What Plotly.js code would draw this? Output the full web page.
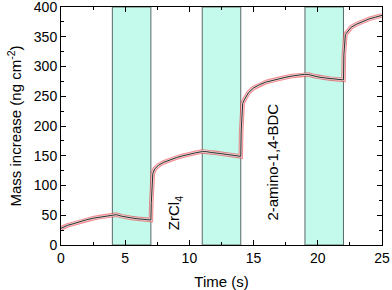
<!DOCTYPE html>
<html>
<head>
<meta charset="utf-8">
<script src="https://cdn.plot.ly/plotly-3.0.1.min.js"></script>
<style>html,body{margin:0;padding:0;background:#fff;}#chart{width:392px;height:290px;}</style>
</head>
<body>
<div id="chart"></div>
<script>
// Time (s)
var time = [0,0.25,0.5,1,1.5,2,2.5,3,3.5,4,4.3,4.7,5,5.5,6,6.5,7,
  7.03,7.08,7.15,7.3,7.6,8,8.5,9,9.5,10,10.5,11,11.3,11.7,12,12.5,13,13.5,14,
  14.03,14.08,14.15,14.3,14.6,15,15.5,16,16.5,17,17.5,18,18.5,19,19.3,19.7,20,20.5,21,21.5,22,
  22.03,22.08,22.15,22.3,22.6,23,23.5,24,24.5,25];
// Mass increase (ng cm^-2)
var mass = [28,31,33,36,39.5,42.5,45,47,49,51,51,48.5,47,45.5,44,43,42,
  70,105,120,128,134,139,143.5,147,150,153,155,157,157,155.5,155,153.5,152,150.5,149,
  190,225,238,245,256,264,270,274,277,280,282,284,285.5,287,286.5,284,282.5,281,279.5,278.5,277.5,
  320,345,354,358,366,371,376,380,383,386];
// Precursor pulse windows (s)
var bandStart = [4, 11, 19];
var bandEnd = [7, 14, 22];
var labels = ['ZrCl<sub>4</sub>', '2-amino-1,4-BDC'];
var labelX = [8.9, 16.5];
var labelY = [54, 140];

var shapes = [];
for (var i = 0; i < bandStart.length; i++) {
  shapes.push({type:'rect', xref:'x', yref:'paper', x0:bandStart[i], x1:bandEnd[i], y0:0, y1:1,
    fillcolor:'rgb(196,250,236)', line:{color:'rgb(90,105,105)', width:1}, layer:'below'});
}

var traces = [
  {x:time, y:mass, mode:'lines', line:{color:'rgba(235,60,70,0.6)', width:4.5}, hoverinfo:'skip'},
  {x:time, y:mass, mode:'lines', line:{color:'rgb(248,205,205)', width:2.6}, hoverinfo:'skip'},
  {x:time, y:mass, mode:'lines', line:{color:'rgb(30,55,55)', width:1}}
];

var ff = '"Liberation Sans", Arial, sans-serif';
var layout = {
  width:392, height:290,
  margin:{l:61, r:10, t:7, b:45},
  paper_bgcolor:'#fff', plot_bgcolor:'rgba(0,0,0,0)',
  showlegend:false,
  font:{family:ff, size:14, color:'#000'},
  shapes:shapes,
  xaxis:{range:[0,25], dtick:5, tick0:0, ticks:'inside', ticklen:5, tickwidth:1, tickcolor:'#000',
    showline:true, linecolor:'#000', linewidth:1, mirror:'ticks', showgrid:false, zeroline:false,
    minor:{dtick:2.5, ticks:'inside', ticklen:3, tickcolor:'#000', showgrid:false},
    tickfont:{size:14}, title:{text:'Time (s)', font:{size:15}, standoff:13}},
  yaxis:{range:[0,400.05], dtick:50, tick0:0, ticks:'inside', ticklen:5, tickwidth:1, tickcolor:'#000',
    showline:true, linecolor:'#000', linewidth:1, mirror:'ticks', showgrid:false, zeroline:false,
    minor:{dtick:25, ticks:'inside', ticklen:3, tickcolor:'#000', showgrid:false},
    tickfont:{size:14}, ticklabeloverflow:'allow', title:{text:'Mass increase (ng cm<sup>-2</sup>)', font:{size:15}, standoff:8}},
  annotations: labels.map(function(t, k){
    return {text:t, x:labelX[k], y:labelY[k], xref:'x', yref:'y', showarrow:false, textangle:-90,
      font:{size:15, color:'#000'}};
  })
};
Plotly.newPlot('chart', traces, layout, {staticPlot:true, displayModeBar:false});
</script>
</body>
</html>
